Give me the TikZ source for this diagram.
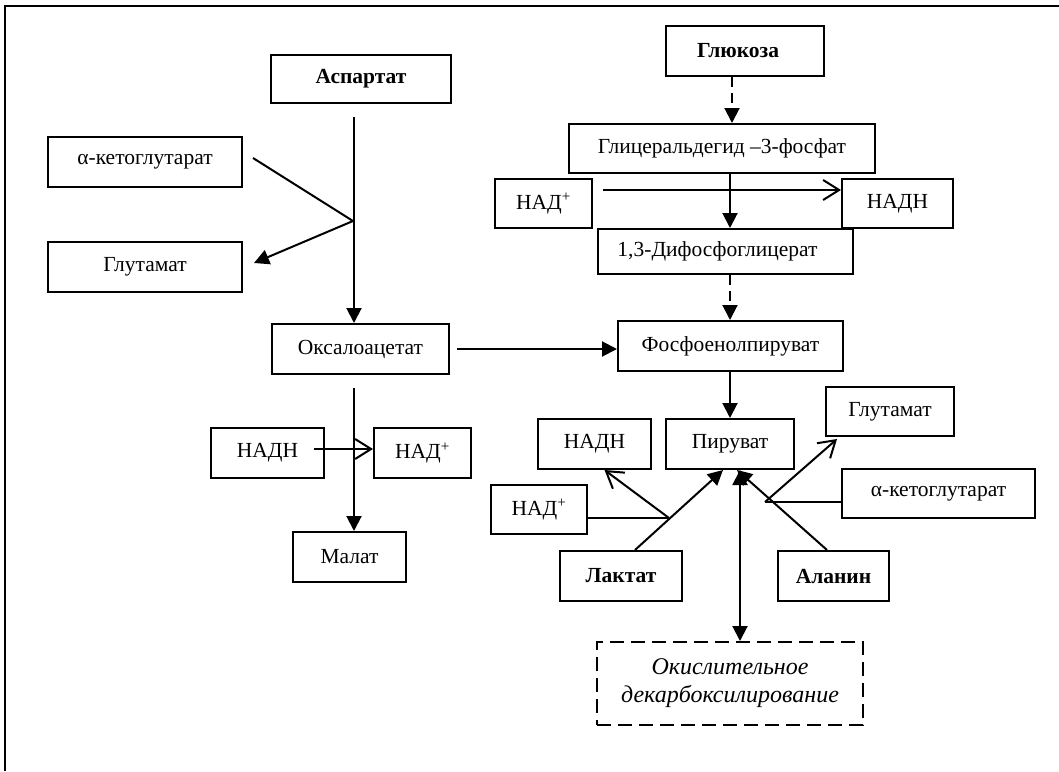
\documentclass[tikz,border=0pt]{standalone}
\usepackage{fontspec}
\setmainfont{Liberation Serif}
\usetikzlibrary{arrows.meta,calc}
\begin{document}
\begin{tikzpicture}[x=1pt,y=-1pt,
  box/.style={draw,line width=2pt,inner sep=0pt,align=center,font=\fontsize{21.5}{26}\selectfont,minimum height=50pt},
  conn/.style={line width=2pt},
  arr/.style={conn,-{Triangle[length=15pt,width=15pt]}},
  arrtwo/.style={conn,{Triangle[length=15pt,width=15pt]}-{Triangle[length=15pt,width=15pt]}},
  oarr/.style={conn,-{Straight Barb[length=16pt,width=20pt,line width=2pt]}},
  dasharr/.style={arr,dash pattern=on 10pt off 6pt},
]
\useasboundingbox (0,0) rectangle (1059,771);
% frame
\draw[line width=2pt] (5,771) -- (5,6) -- (1059,6);

% nodes
\node[box,minimum width=180pt,minimum height=48pt] (asp) at (361,79) {\bfseries Аспартат};
\node[box,minimum width=158pt] (glu) at (745,51) {\bfseries Глюкоза\hspace*{14pt}};
\node[box,minimum width=194pt] (akg1) at (145,162) {α-кетоглутарат};
\node[box,minimum width=194pt] (glut1) at (145,267) {Глутамат};
\node[box,minimum width=177pt] (oxa) at (360.5,349) {Оксалоацетат};
\node[box,minimum width=113pt] (nadh1) at (267.5,453) {НАДН};
\node[box,minimum width=97pt] (nad1) at (422.5,453) {НАД\textsuperscript{+}};
\node[box,minimum width=113pt] (mal) at (349.5,557) {Малат};
\node[box,minimum width=306pt,minimum height=49pt] (g3p) at (722,148.5) {Глицеральдегид –3-фосфат};
\node[box,minimum width=97pt,minimum height=49pt] (nad2) at (543.5,203.5) {НАД\textsuperscript{+}};
\node[box,minimum width=111pt,minimum height=49pt] (nadh2) at (897.5,203.5) {НАДН};
\node[box,minimum width=255pt,minimum height=45pt] (dpg) at (725.5,251.5) {1,3-Дифосфоглицерат\hspace*{16pt}};
\node[box,minimum width=225pt] (pep) at (730.5,346) {Фосфоенолпируват};
\node[box,minimum width=128pt] (pyr) at (730,444) {Пируват};
\node[box,minimum width=113pt] (nadh3) at (594.5,444) {НАДН};
\node[box,minimum width=96pt,minimum height=49pt] (nad3) at (539,509.5) {НАД\textsuperscript{+}};
\node[box,minimum width=128pt,minimum height=49pt] (glut2) at (890,411.5) {Глутамат};
\node[box,minimum width=193pt,minimum height=49pt] (akg2) at (938.5,493.5) {α-кетоглутарат};
\node[box,minimum width=122pt] (lac) at (621,576) {\bfseries Лактат};
\node[box,minimum width=111pt] (ala) at (833.5,576) {\bfseries Аланин};
\node[box,dash pattern=on 14pt off 7pt,minimum width=266pt,minimum height=83pt,font=\fontsize{24}{28}\selectfont\itshape] (okdek) at (730,683.5) {Окислительное\\декарбоксилирование};

% coordinates
\coordinate (a1) at (354,117);
\coordinate (ax) at (730,0);
\coordinate (ax2) at (740,0);
\coordinate (j1) at (353,221);
\coordinate (j2) at (669,518);
\coordinate (j3) at (765,502);

% connectors
\draw[conn] ([xshift=10pt,yshift=4pt]akg1.east) -- (j1);
\draw[arr] (j1) -- ([xshift=11pt,yshift=4pt]glut1.east);
\draw[arr] (a1) -- (a1 |- oxa.north);
\draw[dasharr] ([xshift=-13pt]glu.south) -- ([xshift=10pt]g3p.north);
\draw[arr] (g3p.south -| ax) -- (dpg.north -| ax);
\draw[oarr] ([xshift=10pt,yshift=13.5pt]nad2.east) -- ([yshift=13.5pt]nadh2.west);
\draw[dasharr] (dpg.south -| ax) -- (pep.north -| ax);
\draw[arr] ([xshift=7pt]oxa.east) -- (oxa.east -| pep.west);
\draw[arr] ([yshift=-13pt]oxa.south -| a1) -- (mal.north -| a1);
\draw[oarr] ([xshift=-11pt,yshift=4pt]nadh1.east) -- ([yshift=4pt]nad1.west);
\draw[arr] (pep.south -| ax) -- (pyr.north -| ax);
\draw[arr] ([xshift=14pt]lac.north) -- ([xshift=-7pt]pyr.south);
\draw[conn] ([yshift=-8.5pt]nad3.east) -- (j2);
\draw[oarr] (j2) -- ([xshift=10pt]nadh3.south);
\draw[arr] ([xshift=-6.5pt]ala.north) -- ([xshift=7pt]pyr.south);
\draw[conn] ([yshift=-8.5pt]akg2.west) -- (j3);
\draw[oarr] (j3) -- ([xshift=12pt,yshift=-2pt]glut2.south west);
\draw[arrtwo] (pyr.south -| ax2) -- (okdek.north -| ax2);
\end{tikzpicture}
\end{document}
